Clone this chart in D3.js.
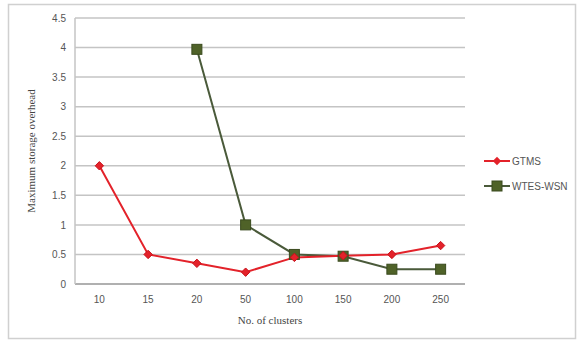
<!DOCTYPE html>
<html><head><meta charset="utf-8">
<script src="https://cdn.jsdelivr.net/npm/d3@7"></script>
<style>body{margin:0;background:#fff}</style>
</head><body>
<svg id="c" width="582" height="343"></svg>
<script>
const categories = ["10","15","20","50","100","150","200","250"];
const gtms = [2.0,0.5,0.35,0.2,0.45,0.48,0.5,0.65];
const wtes = [null,null,3.97,1.0,0.5,0.47,0.25,0.25];
const yTicks = [0,0.5,1,1.5,2,2.5,3,3.5,4,4.5];
const seriesNames = ["GTMS","WTES-WSN"];

const svg = d3.select("#c");
svg.append("rect").attr("x",8.5).attr("y",4.5).attr("width",567).attr("height",334)
  .attr("fill","#fff").attr("stroke","#d0d0d0").attr("stroke-width",1.5);

const L=75,R=465,T=18,B=284;
const x = d3.scaleBand().domain(categories).range([L,R]);
const y = d3.scaleLinear().domain([0,4.5]).range([B,T]);

const g = svg.append("g");
g.selectAll("line.grid").data(yTicks).join("line")
  .attr("x1",L).attr("x2",R).attr("y1",d=>y(d)).attr("y2",d=>y(d))
  .attr("stroke",d=>d===0?"#b0b0b0":"#c4c4c4").attr("stroke-width",d=>d===0?2:1.5);
g.append("line").attr("x1",L).attr("x2",L).attr("y1",T).attr("y2",B).attr("stroke","#c4c4c4").attr("stroke-width",1.5);

const yAxis = d3.axisLeft(y).tickValues(yTicks).tickSize(0).tickPadding(9).tickFormat(d=>String(d));
const ya = svg.append("g").attr("transform",`translate(${L},0)`).call(yAxis);
ya.select(".domain").remove();
ya.selectAll("text").attr("font-family","Liberation Sans, Arial, sans-serif").attr("font-size",10).attr("fill","#555");

const xAxis = d3.axisBottom(x).tickSize(0).tickPadding(12);
const xa = svg.append("g").attr("transform",`translate(0,${B})`).call(xAxis);
xa.select(".domain").remove();
xa.selectAll("text").attr("font-family","Liberation Sans, Arial, sans-serif").attr("font-size",10).attr("fill","#555");

svg.append("text").attr("x",(L+R)/2).attr("y",324).attr("text-anchor","middle")
  .attr("font-family","Liberation Serif, Times New Roman, serif").attr("font-size",11).attr("fill","#444").text("No. of clusters");
svg.append("text").attr("transform",`translate(35,${(T+B)/2}) rotate(-90)`).attr("text-anchor","middle")
  .attr("font-family","Liberation Serif, Times New Roman, serif").attr("font-size",11).attr("fill","#444").text("Maximum storage overhead");

const cx = d => x(d)+x.bandwidth()/2;
const line = d3.line().defined(d=>d.v!==null).x(d=>cx(d.c)).y(d=>y(d.v));
const gData = categories.map((c,i)=>({c,v:gtms[i]}));
const wData = categories.map((c,i)=>({c,v:wtes[i]}));

svg.append("path").datum(wData).attr("d",line).attr("fill","none").attr("stroke","#4a5a3a").attr("stroke-width",2);
svg.append("path").datum(gData).attr("d",line).attr("fill","none").attr("stroke","#e3222a").attr("stroke-width",2);

svg.selectAll("rect.wm").data(wData.filter(d=>d.v!==null)).join("rect")
  .attr("x",d=>cx(d.c)-5).attr("y",d=>y(d.v)-5).attr("width",10).attr("height",10)
  .attr("fill","#4f6228").attr("stroke","#3a4a1e").attr("stroke-width",1);
const diamond = d3.symbol().type(d3.symbolDiamond2).size(45);
svg.selectAll("path.gm").data(gData).join("path")
  .attr("transform",d=>`translate(${cx(d.c)},${y(d.v)})`).attr("d",diamond)
  .attr("fill","#e3222a").attr("stroke","#c8101a");

// legend
const lg = svg.append("g");
lg.append("line").attr("x1",484).attr("x2",510).attr("y1",161).attr("y2",161).attr("stroke","#e3222a").attr("stroke-width",2);
lg.append("path").attr("transform","translate(497,161)").attr("d",diamond).attr("fill","#e3222a");
lg.append("text").attr("x",512).attr("y",165).attr("font-family","Liberation Sans, Arial, sans-serif").attr("font-size",10).attr("fill","#555").text(seriesNames[0]);
lg.append("line").attr("x1",484).attr("x2",510).attr("y1",186).attr("y2",186).attr("stroke","#4a5a3a").attr("stroke-width",2);
lg.append("rect").attr("x",492).attr("y",181).attr("width",10).attr("height",10).attr("fill","#4f6228").attr("stroke","#3a4a1e");
lg.append("text").attr("x",512).attr("y",190).attr("font-family","Liberation Sans, Arial, sans-serif").attr("font-size",10).attr("fill","#555").text(seriesNames[1]);
</script>
</body></html>
